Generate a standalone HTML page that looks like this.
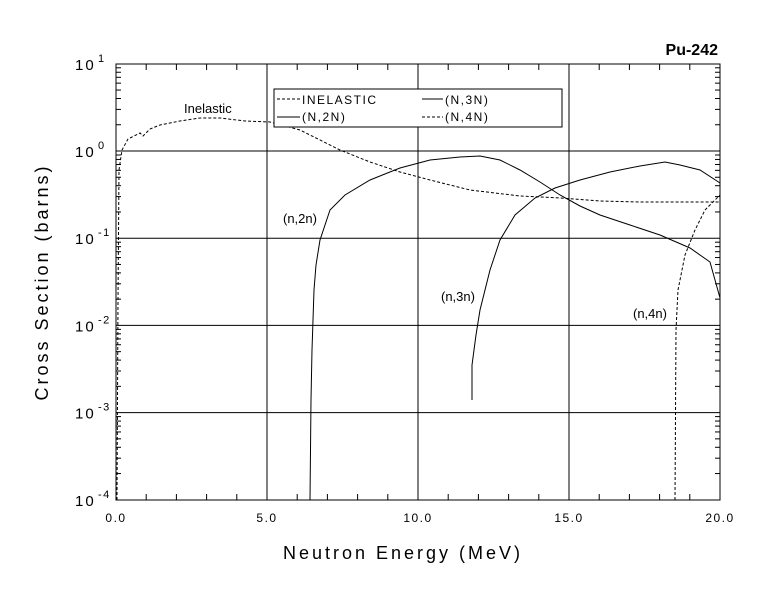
<!DOCTYPE html>
<html><head><meta charset="utf-8"><style>
body{margin:0;background:#fff}
svg{display:block}
text{font-family:"Liberation Sans",sans-serif;fill:#000}
.t{font-size:12px;letter-spacing:1.5px}
.lab{font-size:13px}
</style></head><body>
<svg id="s" width="780" height="590" viewBox="0 0 780 590" xmlns="http://www.w3.org/2000/svg">
<rect width="780" height="590" fill="#fff"/>
<g id="g" stroke="#000" fill="none" stroke-width="1"></g>
<text x="718" y="55" text-anchor="end" style="font-size:16px;font-weight:bold">Pu-242</text>
<text x="184" y="113" class="lab">Inelastic</text>
<text x="283" y="223" class="lab">(n,2n)</text>
<text x="441" y="301" class="lab">(n,3n)</text>
<text x="633" y="318" class="lab">(n,4n)</text>
<text x="403" y="559" text-anchor="middle" style="font-size:18px;letter-spacing:3px">Neutron Energy (MeV)</text>
<text transform="translate(48,282) rotate(-90)" text-anchor="middle" style="font-size:18px;letter-spacing:3px">Cross Section (barns)</text>
<g class="t">
<text x="116" y="522" text-anchor="middle">0.0</text>
<text x="267" y="522" text-anchor="middle">5.0</text>
<text x="418" y="522" text-anchor="middle">10.0</text>
<text x="569" y="522" text-anchor="middle">15.0</text>
<text x="720" y="522" text-anchor="middle">20.0</text>
</g>
<g id="yl" class="t"></g>
<g id="lg"></g>
</svg>
<script>
var g=document.getElementById('g'),yl=document.getElementById('yl'),lg=document.getElementById('lg'),NS='http://www.w3.org/2000/svg';
function el(n,a,p){var e=document.createElementNS(NS,n);for(var k in a)e.setAttribute(k,a[k]);(p||g).appendChild(e);return e;}
var L=116,R=720,T=64,B=500;
function X(E){return L+E*30.2}
function Y(s){return 151-87.2*Math.log10(s)}
el('rect',{x:L,y:T,width:R-L,height:B-T});
for(var i=1;i<4;i++){var x=X(i*5);el('line',{x1:x,y1:T,x2:x,y2:B});}
for(var d=-3;d<=0;d++){var y=Y(Math.pow(10,d));el('line',{x1:L,y1:y,x2:R,y2:y});}
for(var e=1;e<20;e++){if(e%5==0)continue;var x=X(e);el('line',{x1:x,y1:B,x2:x,y2:B-6});el('line',{x1:x,y1:T,x2:x,y2:T+6});}
for(var d=-4;d<1;d++)for(var m=2;m<10;m++){var y=Y(m*Math.pow(10,d));el('line',{x1:L,y1:y,x2:L+5,y2:y});el('line',{x1:R,y1:y,x2:R-5,y2:y});}
for(var d=-4;d<=1;d++){var y=Y(Math.pow(10,d));var t=el('text',{x:75,y:y+6},yl);t.textContent='10';t.setAttribute('style','font-size:15px;letter-spacing:2px');
var s=el('text',{x:98,y:y-2},yl);s.textContent=(d<0?'-':'')+Math.abs(d);s.setAttribute('style','font-size:11px');}
function pl(pts,dash){el('polyline',{points:pts.map(function(p){return p.join(',')}).join(' '),'stroke-dasharray':dash?'3,2':'none'});}
pl([[117,500],[118,300],[119,170],[122,150],[128,139],[134,136],[140,133],[143,136],[150,129],[160,125],[180,121],[200,118],[220,118],[245,121],[270,122],[300,130],[340,150],[370,162],[400,172],[430,180],[470,190],[520,196],[560,198],[600,201],[640,202],[720,202]],true);
pl([[310,500],[311,400],[312,350],[314,290],[316,265],[320,240],[330,210],[345,195],[370,180],[400,168],[430,160],[460,157],[480,156],[500,160],[520,170],[540,182],[560,195],[580,206],[600,215],[630,225],[660,235],[690,248],[710,262],[720,298]]);
pl([[472,400],[472,365],[476,335],[480,310],[490,270],[500,240],[515,215],[535,198],[555,188],[580,180],[610,172],[640,166],[665,162],[680,165],[700,170],[720,183]]);
pl([[675,500],[676,330],[678,290],[685,255],[695,230],[705,210],[715,200],[720,195]],true);
el('rect',{x:274,y:89,width:288,height:38,fill:'#fff'});
el('line',{x1:277,y1:99,x2:300,y2:99,'stroke-dasharray':'3,2'});
el('line',{x1:277,y1:117,x2:300,y2:117});
el('line',{x1:422,y1:99,x2:443,y2:99});
el('line',{x1:422,y1:117,x2:443,y2:117,'stroke-dasharray':'3,2'});
[[302,104,'INELASTIC'],[302,121,'(N,2N)'],[445,104,'(N,3N)'],[445,121,'(N,4N)']].forEach(function(a){var t=el('text',{x:a[0],y:a[1],'class':'t'},lg);t.textContent=a[2];});
</script>
</body></html>
